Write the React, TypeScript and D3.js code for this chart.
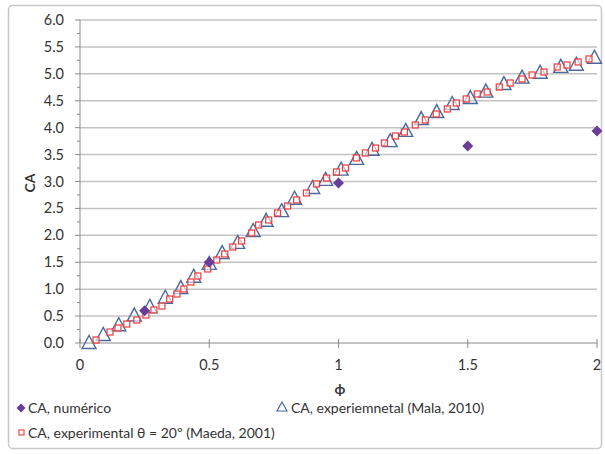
import React from "react";
import * as d3 from "d3";

const numPhi = [0.25, 0.5, 1.0, 1.5, 2.0];
const numCA = [0.6, 1.5, 2.97, 3.66, 3.94];

const malaPhi = [0.035, 0.09, 0.15, 0.21, 0.27, 0.33, 0.39, 0.44, 0.5, 0.55, 0.61, 0.67, 0.72, 0.78, 0.83, 0.9, 0.95, 1.01, 1.07, 1.13, 1.2, 1.26, 1.32, 1.38, 1.44, 1.51, 1.57, 1.64, 1.71, 1.78, 1.86, 1.92, 1.99];
const malaCA = [0.0, 0.15, 0.33, 0.51, 0.67, 0.84, 1.02, 1.23, 1.47, 1.67, 1.86, 2.08, 2.27, 2.45, 2.68, 2.88, 3.03, 3.22, 3.42, 3.59, 3.75, 3.94, 4.16, 4.29, 4.44, 4.55, 4.67, 4.81, 4.93, 5.02, 5.13, 5.17, 5.3];

const maedaPhi = [0.062, 0.116, 0.147, 0.181, 0.22, 0.255, 0.286, 0.317, 0.347, 0.375, 0.402, 0.429, 0.456, 0.494, 0.529, 0.56, 0.591, 0.625, 0.664, 0.691, 0.73, 0.764, 0.803, 0.838, 0.876, 0.915, 0.954, 0.992, 1.027, 1.069, 1.104, 1.143, 1.178, 1.22, 1.255, 1.297, 1.336, 1.378, 1.421, 1.456, 1.494, 1.537, 1.575, 1.622, 1.664, 1.71, 1.749, 1.795, 1.846, 1.884, 1.927, 1.969];
const maedaCA = [0.056, 0.204, 0.279, 0.353, 0.427, 0.52, 0.613, 0.687, 0.817, 0.91, 1.003, 1.133, 1.245, 1.375, 1.542, 1.653, 1.783, 1.895, 2.043, 2.192, 2.285, 2.415, 2.545, 2.657, 2.787, 2.954, 3.065, 3.177, 3.251, 3.437, 3.53, 3.622, 3.715, 3.845, 3.92, 4.05, 4.143, 4.254, 4.347, 4.458, 4.533, 4.626, 4.663, 4.756, 4.83, 4.904, 4.979, 5.034, 5.127, 5.164, 5.22, 5.276];

const yTicks = [0, 0.5, 1, 1.5, 2, 2.5, 3, 3.5, 4, 4.5, 5, 5.5, 6];
const yMinor = d3.range(0, 6.001, 0.25);
const xTicks = [0, 0.5, 1, 1.5, 2];
const xTickLabels = ["0", "0.5", "1", "1.5", "2"];

const seriesNames = [
  "CA, numérico",
  "CA, experiemnetal (Mala, 2010)",
  "CA, experimental θ = 20º (Maeda, 2001)",
];

const FONT = "Lato, 'Open Sans', sans-serif";

export default function App() {
  const x = d3.scaleLinear().domain([0, 2]).range([80, 597]);
  const y = d3.scaleLinear().domain([0, 6]).range([343, 20]);
  const gridColor = "#c3c3c3";
  const axisColor = "#8a8a8a";
  const triColor = "#4a6a9e";
  const sqColor = "#ee3b3b";
  const diaColor = "#6a3d9a";

  const tri = (cx: number, cy: number) =>
    `M${cx},${cy - 7.5} L${cx + 7},${cy + 5.5} L${cx - 7},${cy + 5.5} Z`;
  const dia = (cx: number, cy: number, r = 5.5) =>
    `M${cx},${cy - r} L${cx + r},${cy} L${cx},${cy + r} L${cx - r},${cy} Z`;

  return (
    <svg
      width={605}
      height={454}
      style={{ position: "absolute", left: 0, top: 0, background: "#fff" }}
      fontFamily={FONT}
    >
      <rect x={8.5} y={5.5} width={593} height={443} rx={4} fill="#fff" stroke="#c8c8c8" strokeWidth={1.5} />
      {yTicks.filter((t) => t > 0).map((t) => (
        <line key={"g" + t} x1={80} x2={597} y1={y(t)} y2={y(t)} stroke={gridColor} strokeWidth={1.5} />
      ))}
      {yMinor.map((t) => (
        <line key={"m" + t} x1={yTicks.includes(t) ? 75 : 77} x2={80} y1={y(t)} y2={y(t)} stroke={axisColor} strokeWidth={1} />
      ))}
      <line x1={80} x2={80} y1={y(6)} y2={y(0)} stroke={axisColor} strokeWidth={1} />
      <line x1={80} x2={597} y1={y(0)} y2={y(0)} stroke={axisColor} strokeWidth={1.2} />
      {xTicks.map((t) => (
        <line key={"xt" + t} x1={x(t)} x2={x(t)} y1={y(0) - 4} y2={y(0) + 5} stroke={axisColor} strokeWidth={1} />
      ))}
      {yTicks.map((t) => (
        <text key={"yl" + t} x={64} y={y(t)} dy="0.35em" textAnchor="end" fontSize={14.5} fill="#333">
          {t.toFixed(1)}
        </text>
      ))}
      {xTicks.map((t, i) => (
        <text key={"xl" + t} x={x(t)} y={370} textAnchor="middle" fontSize={14.5} fill="#333">
          {xTickLabels[i]}
        </text>
      ))}
      <text transform="translate(35,183) rotate(-90)" textAnchor="middle" fontSize={14} fontWeight="bold" fill="#333">
        CA
      </text>
      <text x={340} y={394} textAnchor="middle" fontSize={14} fontWeight="bold" fill="#333">
        ϕ
      </text>

      {malaPhi.map((p, i) => (
        <path key={"t" + i} d={tri(x(p), y(malaCA[i]))} fill="none" stroke={triColor} strokeWidth={1.4} />
      ))}
      {maedaPhi.map((p, i) => (
        <rect key={"s" + i} x={x(p) - 3} y={y(maedaCA[i]) - 3} width={6} height={6} fill="#fff" fillOpacity={0.6} stroke={sqColor} strokeWidth={1.2} />
      ))}
      {numPhi.map((p, i) => (
        <path key={"d" + i} d={dia(x(p), y(numCA[i]))} fill={diaColor} />
      ))}

      <path d={dia(21, 408, 4.5)} fill={diaColor} />
      <text x={28} y={408} dy="0.35em" fontSize={14} fill="#333">{seriesNames[0]}</text>
      <path d={`M282,402 L287,411 L277,411 Z`} fill="none" stroke={triColor} strokeWidth={1.2} />
      <text x={291} y={408} dy="0.35em" fontSize={14} fill="#333">{seriesNames[1]}</text>
      <rect x={19} y={430} width={5} height={5} fill="#fff" stroke={sqColor} strokeWidth={1.1} />
      <text x={28} y={433} dy="0.35em" fontSize={14} fill="#333">{seriesNames[2]}</text>
    </svg>
  );
}
